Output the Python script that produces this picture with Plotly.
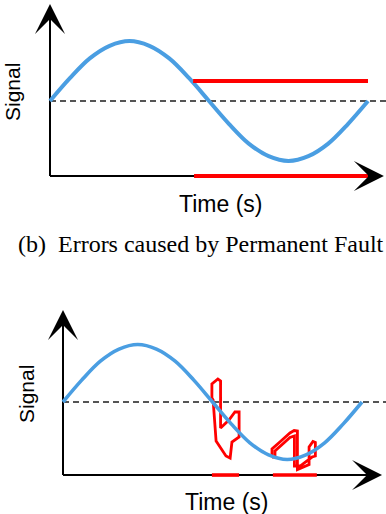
import plotly.graph_objects as go

W, H = 386, 514

# ---- data (time in periods, signal in amplitudes) ----
sine_t = [0, 0.0625, 0.125, 0.1875, 0.25, 0.3125, 0.375, 0.4375, 0.5,
          0.5625, 0.625, 0.6875, 0.75, 0.8125, 0.875, 0.9375, 1.0]
sine_v = [0, 0.38, 0.71, 0.92, 1.0, 0.92, 0.71, 0.38, 0,
          -0.38, -0.71, -0.92, -1.0, -0.92, -0.71, -0.38, 0]

top_stuck_t = [0.45, 1.0]
top_stuck_v = [0.333, 0.333]
top_fault_t = [0.453, 1.006]

bot_fault1_t = [0.498, 0.589]
bot_fault2_t = [0.702, 0.849]

glitch1_t = [0.498, 0.498, 0.518, 0.527, 0.527, 0.555, 0.575, 0.589, 0.589,
             0.565, 0.559, 0.545, 0.512, 0.502, 0.498]
glitch1_v = [0.07, 0.313, 0.40, 0.365, -0.452, -0.313, -0.174, -0.174, -0.609,
             -0.696, -0.974, -0.939, -0.678, 0.035, 0.07]

glitch2_t = [0.699, 0.699, 0.729, 0.759, 0.773, 0.784, 0.784, 0.823, 0.823,
             0.836, 0.844, 0.844, 0.833, 0.793, 0.774, 0.774, 0.759, 0.729,
             0.709, 0.709, 0.699]
glitch2_v = [-0.957, -0.817, -0.678, -0.539, -0.496, -0.504, -1.174, -1.087, -0.783,
             -0.687, -0.704, -0.939, -0.957, -1.113, -1.113, -0.591, -0.617, -0.757,
             -0.852, -0.957, -0.957]

labels = {"x": "Time (s)", "y": "Signal",
          "caption": "(b)  Errors caused by Permanent Fault"}

BLUE = "#4a9ee2"
RED = "#ff0000"
GRAY = "#555555"

# ---- panel geometry (pixels) ----
panels = [
    dict(ax="", L=38, R=386, T=0, B=192, px0=50, sx=318, py0=101, sy=60,
         axis_v=-1.25, xtip=1.050, ytip=1.617),
    dict(ax="2", L=50, R=386, T=296, B=492, px0=63, sx=299, py0=402, sy=57.5,
         axis_v=-1.27, xtip=1.067, ytip=1.60),
]

fig = go.Figure()
layout = dict(width=W, height=H, margin=dict(l=0, r=0, t=0, b=0),
              paper_bgcolor="white", plot_bgcolor="white", showlegend=False)
shapes, annotations = [], []

for i, p in enumerate(panels):
    xr = [(p["L"] - p["px0"]) / p["sx"], (p["R"] - p["px0"]) / p["sx"]]
    yr = [(p["py0"] - p["B"]) / p["sy"], (p["py0"] - p["T"]) / p["sy"]]
    layout["xaxis" + p["ax"]] = dict(domain=[p["L"] / W, p["R"] / W], range=xr,
                                     visible=False, fixedrange=True)
    layout["yaxis" + p["ax"]] = dict(domain=[1 - p["B"] / H, 1 - p["T"] / H], range=yr,
                                     visible=False, fixedrange=True)
    xa, ya = "x" + p["ax"], "y" + p["ax"]

    # baseline (dashed)
    fig.add_trace(go.Scatter(x=[0, xr[1]], y=[0, 0], mode="lines", xaxis=xa, yaxis=ya,
                             line=dict(color=GRAY, width=2, dash="6px,4px"),
                             hoverinfo="skip"))
    if i == 0:
        fig.add_trace(go.Scatter(x=sine_t, y=sine_v, mode="lines", xaxis=xa, yaxis=ya,
                                 line=dict(color=BLUE, width=4, shape="spline"),
                                 hoverinfo="skip"))
        fig.add_trace(go.Scatter(x=top_stuck_t, y=top_stuck_v, mode="lines", xaxis=xa, yaxis=ya,
                                 line=dict(color=RED, width=4), hoverinfo="skip"))
        fig.add_trace(go.Scatter(x=top_fault_t, y=[p["axis_v"]] * 2, mode="lines",
                                 xaxis=xa, yaxis=ya, line=dict(color=RED, width=4),
                                 hoverinfo="skip"))
    else:
        for gt, gv in ((glitch1_t, glitch1_v), (glitch2_t, glitch2_v)):
            fig.add_trace(go.Scatter(x=gt, y=gv, mode="lines", xaxis=xa, yaxis=ya,
                                     line=dict(color=RED, width=2.8), hoverinfo="skip"))
        fig.add_trace(go.Scatter(x=sine_t, y=sine_v, mode="lines", xaxis=xa, yaxis=ya,
                                 line=dict(color=BLUE, width=3.6, shape="spline"),
                                 hoverinfo="skip"))
        for ft in (bot_fault1_t, bot_fault2_t):
            fig.add_trace(go.Scatter(x=ft, y=[p["axis_v"]] * 2, mode="lines",
                                     xaxis=xa, yaxis=ya, line=dict(color=RED, width=3.6),
                                     hoverinfo="skip"))

    # axis lines (below traces)
    shapes.append(dict(type="line", xref=xa, yref=ya, layer="below",
                       x0=0, y0=p["axis_v"], x1=p["xtip"] - 10 / p["sx"], y1=p["axis_v"],
                       line=dict(color="black", width=2)))
    shapes.append(dict(type="line", xref=xa, yref=ya, layer="below",
                       x0=0, y0=p["axis_v"], x1=0, y1=p["ytip"] - 10 / p["sy"],
                       line=dict(color="black", width=2)))
    # arrow heads
    annotations.append(dict(x=p["xtip"], y=p["axis_v"], xref=xa, yref=ya, text="",
                            showarrow=True, ax=-14, ay=0, arrowhead=3, arrowsize=2.5,
                            arrowwidth=2, arrowcolor="black", standoff=0))
    annotations.append(dict(x=0, y=p["ytip"], xref=xa, yref=ya, text="",
                            showarrow=True, ax=0, ay=14, arrowhead=3, arrowsize=2.5,
                            arrowwidth=2, arrowcolor="black", standoff=0))

sans = dict(family="Liberation Sans, Arial", size=23, color="black")
sans_y = dict(family="Liberation Sans, Arial", size=21, color="black")
annotations += [
    dict(x=220 / W, y=1 - 204 / H, xref="paper", yref="paper", text=labels["x"],
         showarrow=False, font=sans, xanchor="center", yanchor="middle"),
    dict(x=12 / W, y=1 - 92 / H, xref="paper", yref="paper", text=labels["y"],
         showarrow=False, font=sans_y, textangle=-90, xanchor="center", yanchor="middle"),
    dict(x=226 / W, y=1 - 502 / H, xref="paper", yref="paper", text=labels["x"],
         showarrow=False, font=sans, xanchor="center", yanchor="middle"),
    dict(x=26 / W, y=1 - 394 / H, xref="paper", yref="paper", text=labels["y"],
         showarrow=False, font=sans_y, textangle=-90, xanchor="center", yanchor="middle"),
    dict(x=201 / W, y=1 - 244 / H, xref="paper", yref="paper", text=labels["caption"],
         showarrow=False, xanchor="center", yanchor="middle",
         font=dict(family="Liberation Serif, Times New Roman", size=24, color="black")),
]
layout["shapes"] = shapes
layout["annotations"] = annotations
fig.update_layout(**layout)
fig.write_html("out.html", config={"displayModeBar": False},
               post_script="document.body.style.margin='0';"
                           "document.body.style.overflow='hidden';")
